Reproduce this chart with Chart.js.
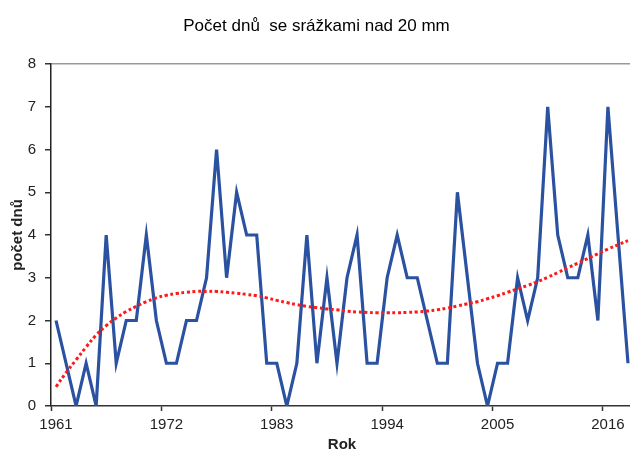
<!DOCTYPE html>
<html>
<head>
<meta charset="utf-8">
<script src="https://cdn.jsdelivr.net/npm/chart.js@4"></script>
<style>
    html, body { margin: 0; padding: 0; background: #fff; overflow: hidden; width: 630px; height: 452px; }
    canvas { display: block; }
</style>
</head>
<body>
<canvas id="chart" width="633" height="454" style="width:633px;height:454px"></canvas>
<script>
const years = [];
for (let y = 1961; y <= 2018; y++) years.push(String(y));

// počet dnů se srážkami nad 20 mm
const rainDays = [
    2, 1, 0, 1, 0, 4, 1, 2, 2, 4,
    2, 1, 1, 2, 2, 3, 6, 3, 5, 4,
    4, 1, 1, 0, 1, 4, 1, 3, 1, 3,
    4, 1, 1, 3, 4, 3, 3, 2, 1, 1,
    5, 3, 1, 0, 1, 1, 3, 2, 3, 7,
    4, 3, 3, 4, 2, 7, 4, 1
];

// polynomial trend
const trend = [
    0.45, 0.78, 1.08, 1.38, 1.66, 1.88, 2.06, 2.21, 2.33, 2.44,
    2.53, 2.59, 2.63, 2.66, 2.68, 2.68, 2.68, 2.66, 2.64, 2.61,
    2.58, 2.53, 2.47, 2.42, 2.37, 2.33, 2.30, 2.27, 2.25, 2.22,
    2.20, 2.19, 2.18, 2.18, 2.18, 2.19, 2.20, 2.22, 2.25, 2.29,
    2.34, 2.39, 2.44, 2.51, 2.58, 2.66, 2.74, 2.82, 2.91, 3.01,
    3.12, 3.23, 3.34, 3.45, 3.56, 3.67, 3.77, 3.87
];

const labelStep = 11;
const fontFamily = "'Liberation Sans', Arial, sans-serif";

const ctx = document.getElementById("chart").getContext("2d");
new Chart(ctx, {
    type: "line",
    data: {
        labels: years,
        datasets: [
            {
                data: trend,
                borderColor: "#FF1A1A",
                borderWidth: 3,
                borderDash: [3, 2.6],
                borderCapStyle: "butt",
                pointRadius: 0,
                tension: 0.4,
                fill: false
            },
            {
                data: rainDays,
                borderColor: "#2A52A0",
                borderWidth: 3.2,
                pointRadius: 0,
                tension: 0,
                fill: false
            }
        ]
    },
    options: {
        responsive: false,
        animation: false,
        layout: { padding: 0 },
        plugins: {
            legend: { display: false },
            tooltip: { enabled: false },
            title: {
                display: true,
                text: "Počet dnů  se srážkami nad 20 mm",
                color: "#000",
                font: { family: fontFamily, size: 17, weight: "normal" },
                padding: { top: 16, bottom: 27.6 }
            }
        },
        scales: {
            x: {
                type: "category",
                offset: true,
                afterFit: s => { s.height = 48; },
                border: { display: true, color: "#333", width: 1.5 },
                grid: {
                    offset: true,
                    drawOnChartArea: false,
                    drawTicks: true,
                    tickLength: 5,
                    tickWidth: 1.5,
                    tickColor: c => (c.index % labelStep === 0 ? "#333" : "transparent")
                },
                ticks: {
                    autoSkip: false,
                    maxRotation: 0,
                    padding: 5,
                    color: "#222",
                    font: { family: fontFamily, size: 15 },
                    callback: function (val, i) { return i % labelStep === 0 ? this.getLabelForValue(val) : ""; }
                },
                title: {
                    display: true,
                    text: "Rok",
                    color: "#222",
                    font: { family: fontFamily, size: 15, weight: "bold" },
                    padding: { top: 0, bottom: 0 }
                }
            },
            y: {
                min: 0,
                max: 8,
                afterFit: s => { s.width = 51; },
                border: { display: true, color: "#222", width: 1.5 },
                grid: {
                    drawOnChartArea: true,
                    drawTicks: true,
                    tickLength: 6,
                    tickColor: "#333",
                    tickWidth: 1.5,
                    lineWidth: 1.5,
                    color: c => (c.tick && c.tick.value === 8 ? "#999" : "transparent")
                },
                ticks: {
                    stepSize: 1,
                    padding: 9,
                    color: "#222",
                    font: { family: fontFamily, size: 15 }
                },
                title: {
                    display: true,
                    text: "počet dnů",
                    color: "#222",
                    font: { family: fontFamily, size: 15, weight: "bold" },
                    padding: { top: 9, bottom: 0 }
                }
            }
        }
    }
});
</script>
</body>
</html>
